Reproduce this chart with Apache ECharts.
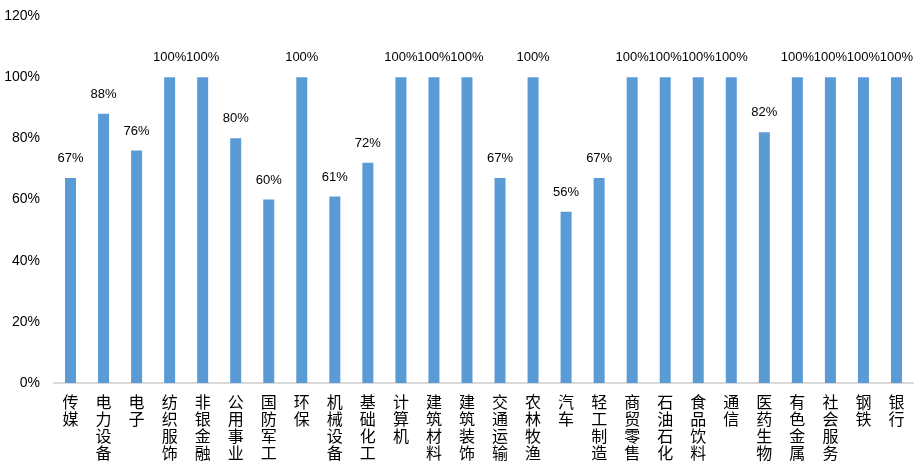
<!DOCTYPE html>
<html>
<head>
<meta charset="utf-8">
<script src="https://cdn.jsdelivr.net/npm/echarts@6/dist/echarts.min.js"></script>
<style>html,body{margin:0;padding:0;background:#fff}#c{width:918px;height:473px}</style>
</head>
<body>
<div id="c"></div>
<script>
var categories = ['传媒','电力设备','电子','纺织服饰','非银金融','公用事业','国防军工','环保','机械设备','基础化工','计算机','建筑材料','建筑装饰','交通运输','农林牧渔','汽车','轻工制造','商贸零售','石油石化','食品饮料','通信','医药生物','有色金属','社会服务','钢铁','银行'];
var values = [67,88,76,100,100,80,60,100,61,72,100,100,100,67,100,56,67,100,100,100,100,82,100,100,100,100];
var yTicks = [0,20,40,60,80,100,120];

var chart = echarts.init(document.getElementById('c'));
chart.setOption({
  animation: false,
  grid: {left: 54, right: 5, top: 16, bottom: 90},
  xAxis: {
    type: 'category',
    data: categories,
    axisLine: {lineStyle: {color: '#d9d9d9', width: 2}},
    axisTick: {show: false},
    axisLabel: {
      interval: 0,
      margin: 10,
      color: '#000',
      fontSize: 16,
      lineHeight: 17,
      fontFamily: 'Noto Sans CJK SC',
      formatter: function (v) { return v.split('').join('\n'); }
    }
  },
  yAxis: {
    type: 'value',
    min: yTicks[0],
    max: yTicks[yTicks.length - 1],
    interval: 20,
    splitLine: {show: false},
    axisLine: {show: false},
    axisTick: {show: false},
    axisLabel: {color: '#000', fontSize: 14, margin: 14, fontFamily: 'Liberation Sans', formatter: '{value}%'}
  },
  series: [{
    type: 'bar',
    data: values,
    barWidth: 11,
    itemStyle: {color: '#5B9BD5'},
    label: {
      show: true,
      position: 'top',
      distance: 13,
      color: '#000',
      fontSize: 13,
      fontFamily: 'Liberation Sans',
      formatter: '{c}%'
    }
  }]
});
</script>
</body>
</html>
